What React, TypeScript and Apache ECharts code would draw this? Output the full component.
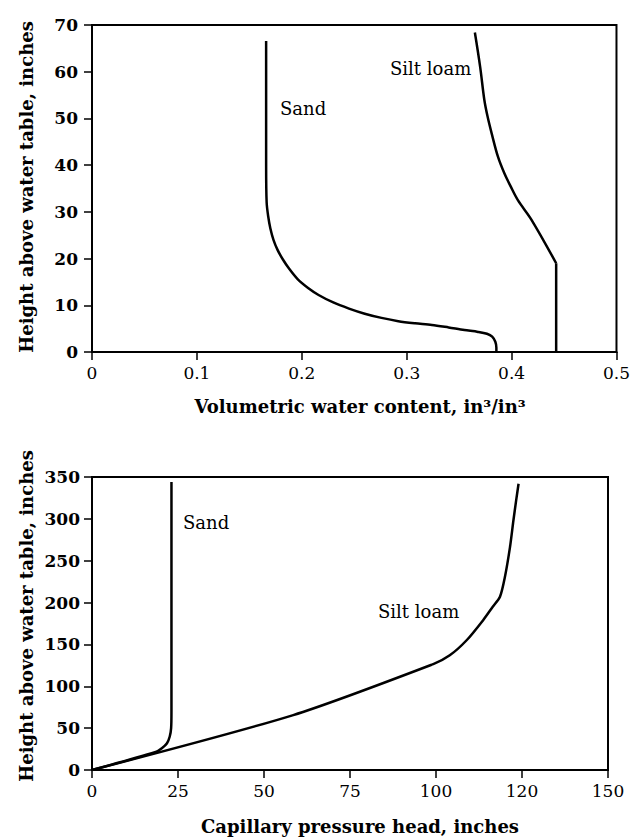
import React, { useEffect, useRef } from "react";
import * as echarts from "echarts";

// Top chart: volumetric water content vs height above water table
const sandTheta = [0.3855, 0.3855, 0.3845, 0.3815, 0.3765, 0.368, 0.355, 0.34, 0.324, 0.308, 0.292, 0.276, 0.26, 0.245, 0.23, 0.216, 0.206, 0.196, 0.188, 0.182, 0.177, 0.173, 0.17, 0.168, 0.1665, 0.166, 0.166, 0.166];
const sandHeightTop = [0, 0.9, 2.2, 3.3, 3.9, 4.3, 4.7, 5.25, 5.8, 6.15, 6.6, 7.3, 8.2, 9.3, 10.6, 12.2, 13.7, 15.6, 17.8, 19.8, 21.8, 24, 26.5, 29, 32, 40, 50, 66.6];
const siltThetaLow = [0.4425, 0.4425];
const siltHeightLow = [0, 19.0];
const siltThetaHigh = [0.4425, 0.419, 0.406, 0.399, 0.393, 0.387, 0.381, 0.377, 0.374, 0.370, 0.365];
const siltHeightHigh = [19.0, 28.3, 32.5, 35.5, 38.3, 41.8, 46.8, 50.5, 54, 61.1, 68.4];
const topXTicks = ["0", "0.1", "0.2", "0.3", "0.4", "0.5"];
const topYTicks = ["0", "10", "20", "30", "40", "50", "60", "70"];

// Bottom chart: capillary pressure head vs height above water table
const sandHead = [0, 18.5, 20.3, 21.8, 22.6, 23.0, 23.1, 23.1];
const sandHeightBottom = [0, 21.5, 26, 32, 40, 50, 70, 344];
const siltHead = [0, 58.5, 99.2, 104, 108.9, 113.7, 116.5, 118.6, 120, 121.5, 122.5, 123.3, 124];
const siltHeightBottom = [0, 65.6, 126.5, 137, 155, 179, 195, 207, 230, 266, 298, 322, 342];
const bottomXTicks = ["0", "25", "50", "75", "100", "120", "150"];
const bottomYTicks = ["0", "50", "100", "150", "200", "250", "300", "350"];

const zip = (xs: number[], ys: number[]) => xs.map((x, i) => [x, ys[i]]);

const FONT = "DejaVu Serif";

export default function App() {
  const ref = useRef<HTMLDivElement>(null);
  useEffect(() => {
    if (!ref.current) return;
    const chart = echarts.init(ref.current, undefined, { renderer: "svg" });
    const axisCommon = {
      axisLine: { show: true, onZero: false, lineStyle: { color: "#000", width: 2 } },
      axisTick: { show: true, inside: false, length: 8, lineStyle: { color: "#000", width: 1.5 } },
      splitLine: { show: false },
    };
    const xLabel = { color: "#000", fontFamily: FONT, fontSize: 17, margin: 12 };
    const yLabel = { color: "#000", fontFamily: FONT, fontSize: 17, fontWeight: "bold" as const };
    const lineStyle = { color: "#000", width: 2.5 };
    const titleStyle = { fontFamily: FONT, fontSize: 18, fontWeight: "bold" as const, fill: "#000", align: "center" as const, verticalAlign: "middle" as const };
    const noteStyle = { fontFamily: FONT, fontSize: 18, fill: "#000" };
    chart.setOption({
      animation: false,
      grid: [
        { left: 92, top: 25, right: 14, bottom: 486, show: true, borderColor: "#000", borderWidth: 2 },
        { left: 92, top: 477, right: 25, bottom: 68, show: true, borderColor: "#000", borderWidth: 2 },
      ],
      xAxis: [
        {
          type: "value", gridIndex: 0, min: 0, max: 0.5, interval: 0.1, ...axisCommon,
          axisLabel: { ...xLabel, formatter: (v: number) => topXTicks[Math.round(v / 0.1)] },
        },
        {
          type: "value", gridIndex: 1, min: 0, max: 150, interval: 25, ...axisCommon,
          axisLabel: { ...xLabel, formatter: (v: number) => bottomXTicks[Math.round(v / 25)] },
        },
      ],
      yAxis: [
        {
          type: "value", gridIndex: 0, min: 0, max: 70, interval: 10, ...axisCommon,
          axisLabel: { ...yLabel, margin: 14, formatter: (v: number) => topYTicks[Math.round(v / 10)] },
        },
        {
          type: "value", gridIndex: 1, min: 0, max: 350, interval: 50, ...axisCommon,
          axisLabel: { ...yLabel, margin: 12, formatter: (v: number) => bottomYTicks[Math.round(v / 50)] },
        },
      ],
      series: [
        { type: "line", name: "Sand", xAxisIndex: 0, yAxisIndex: 0, data: zip(sandTheta, sandHeightTop), showSymbol: false, lineStyle, smooth: 0.3 },
        { type: "line", name: "Silt loam", xAxisIndex: 0, yAxisIndex: 0, data: zip(siltThetaLow, siltHeightLow), showSymbol: false, lineStyle },
        { type: "line", name: "Silt loam", xAxisIndex: 0, yAxisIndex: 0, data: zip(siltThetaHigh, siltHeightHigh), showSymbol: false, lineStyle, smooth: 0.35 },
        { type: "line", name: "Sand", xAxisIndex: 1, yAxisIndex: 1, data: zip(sandHead, sandHeightBottom), showSymbol: false, lineStyle, smooth: 0.3 },
        { type: "line", name: "Silt loam", xAxisIndex: 1, yAxisIndex: 1, data: zip(siltHead, siltHeightBottom), showSymbol: false, lineStyle, smooth: 0.25 },
      ],
      graphic: [
        { type: "text", left: 280, top: 99, style: { text: "Sand", ...noteStyle } },
        { type: "text", left: 390, top: 59, style: { text: "Silt loam", ...noteStyle } },
        { type: "text", left: 183, top: 513, style: { text: "Sand", ...noteStyle } },
        { type: "text", left: 378, top: 602, style: { text: "Silt loam", ...noteStyle } },
        { type: "text", x: 360, y: 406, style: { text: "Volumetric water content, in³/in³", ...titleStyle } },
        { type: "text", x: 360, y: 826, style: { text: "Capillary pressure head, inches", ...titleStyle } },
        { type: "text", x: 26, y: 187, rotation: Math.PI / 2, style: { text: "Height above water table, inches", ...titleStyle } },
        { type: "text", x: 26, y: 616, rotation: Math.PI / 2, style: { text: "Height above water table, inches", ...titleStyle } },
      ],
    });
    return () => chart.dispose();
  }, []);
  return <div ref={ref} style={{ position: "fixed", left: 0, top: 0, width: 633, height: 838, background: "#fff" }} />;
}
